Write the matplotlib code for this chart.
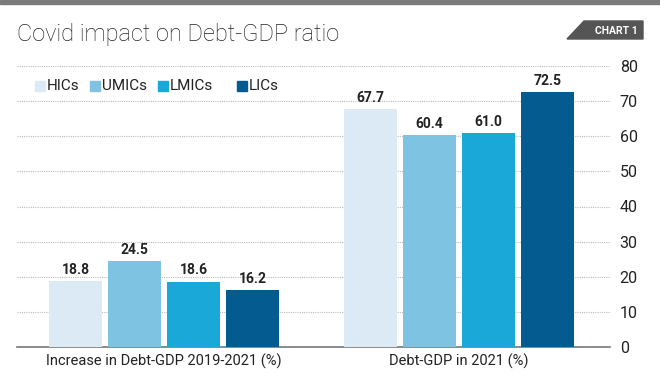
import matplotlib
matplotlib.use("Agg")
import matplotlib.pyplot as plt
from matplotlib.patches import Polygon, Rectangle
import numpy as np

# data
groups = ["Increase in Debt-GDP 2019-2021 (%)", "Debt-GDP in 2021 (%)"]
series = ["HICs", "UMICs", "LMICs", "LICs"]
values = {
    "HICs": [18.8, 67.7],
    "UMICs": [24.5, 60.4],
    "LMICs": [18.6, 61.0],
    "LICs": [16.2, 72.5],
}
colors = ["#dbeaf4", "#7fc3e2", "#19a8d7", "#035b8f"]
yticks = [0, 10, 20, 30, 40, 50, 60, 70, 80]

plt.rcParams["font.family"] = ["Roboto", "DejaVu Sans"]

fig = plt.figure(figsize=(6.6, 3.92), dpi=100)
ax = fig.add_axes([17 / 660, 1 - 347 / 392, (610 - 17) / 660, (347 - 66) / 392])

x = np.arange(len(groups))
step = 0.2
width = 0.18
for i, s in enumerate(series):
    xs = x + (i - 1.5) * step
    ax.bar(xs, values[s], width, color=colors[i], zorder=3)
    for xx, v in zip(xs, values[s]):
        ax.text(xx, v + 1.2, f"{v:.1f}", ha="center", va="bottom",
                fontsize=10, fontweight="bold", color="#222222", zorder=4)

ax.set_xlim(-0.5, 1.513)
ax.set_ylim(0, 80)
ax.set_yticks(yticks)
ax.yaxis.tick_right()
ax.tick_params(axis="y", length=0, pad=7, labelsize=11.5, colors="#222222")
ax.set_xticks(x)
ax.set_xticklabels(groups, fontsize=10.5, color="#222222")
ax.tick_params(axis="x", length=0, pad=5)
ax.grid(axis="y", linestyle=(0, (1, 1)), color="#bbbbbb", linewidth=0.8, zorder=0)
ax.set_axisbelow(True)
for sp in ["top", "right", "left"]:
    ax.spines[sp].set_visible(False)
ax.spines["bottom"].set_color("#777777")
ax.spines["bottom"].set_linewidth(1.2)

# legend
leg_x = [35, 90, 158, 237]
for i, s in enumerate(series):
    fig.patches.append(Rectangle((leg_x[i] / 660, 1 - 91 / 392), 10 / 660, 10 / 392,
                                 transform=fig.transFigure, color=colors[i]))
    fig.text((leg_x[i] + 12) / 660, 1 - 86 / 392, s, fontsize=11, va="center",
             ha="left", color="#222222")

# title
fig.text(17 / 660, 1 - 35 / 392, "Covid impact on Debt-GDP ratio", fontsize=17,
         fontweight="light", va="center", ha="left", color="#222222")

# top bar
fig.patches.append(Rectangle((0, 1 - 4 / 392), 1, 4 / 392, transform=fig.transFigure,
                             color="#7b7b7b"))

# chart badge
badge = [(567, 39), (584, 21), (643, 21), (643, 39)]
fig.patches.append(Polygon([(px / 660, 1 - py / 392) for px, py in badge],
                           closed=True, transform=fig.transFigure, color="#555555"))
fig.text(616 / 660, 1 - 30.5 / 392, "CHART 1", fontsize=7.5, fontweight="bold",
         color="white", ha="center", va="center")

fig.savefig("out.png", dpi=100)
